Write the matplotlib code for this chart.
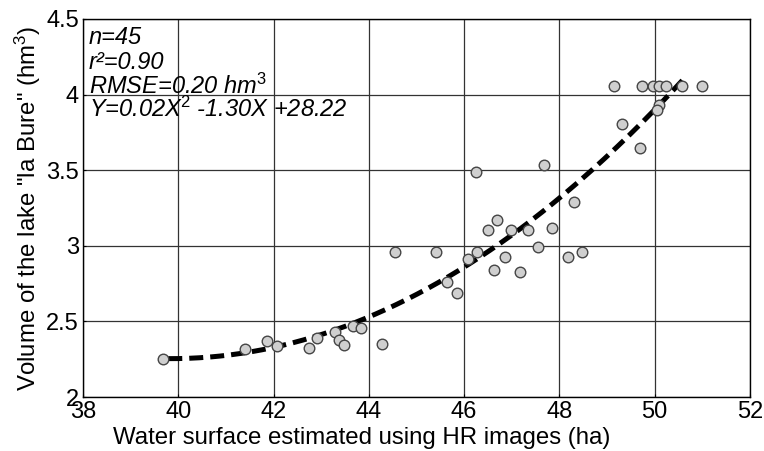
#!/usr/bin/env python
"""
lake volume against water surface estimated from HR images
"""

# used libraries
import numpy as np
from matplotlib import pyplot as plt

# water surface (ha)
surface = [39.68, 41.40, 41.86, 42.08, 42.74, 42.91, 43.29, 43.37, 43.48,
           43.67, 43.83, 44.27, 44.55, 45.41, 45.64, 45.85, 46.09, 46.27,
           46.24, 46.50, 46.69, 46.63, 46.85, 46.98, 47.18, 47.35, 47.54,
           47.67, 47.85, 48.19, 48.31, 48.47, 49.14, 49.73, 49.96, 50.10,
           50.24, 50.57, 50.99, 50.08, 50.05, 49.31, 49.70]

# lake volume (hm3)
volume = [2.250, 2.316, 2.373, 2.340, 2.327, 2.393, 2.430, 2.380, 2.346,
          2.470, 2.459, 2.353, 2.962, 2.962, 2.760, 2.690, 2.910, 2.960,
          3.485, 3.106, 3.170, 2.840, 2.925, 3.106, 2.830, 3.106, 2.993,
          3.534, 3.120, 2.925, 3.287, 2.962, 4.055, 4.055, 4.055, 4.055,
          4.055, 4.055, 4.055, 3.934, 3.896, 3.806, 3.644]

# range covered by the fitted curve
fit_range = [39.79, 50.62]

# statistics box
stats = ["n=45", "r²=0.90", "RMSE=0.20 hm$^{3}$",
         "Y=0.02X$^{2}$ -1.30X +28.22"]

xticks = [38, 40, 42, 44, 46, 48, 50, 52]
yticks = [2, 2.5, 3, 3.5, 4, 4.5]


def main():
    """
    draw the scatter with its quadratic fit and save it to out.png
    """

    # fonts close to arial
    plt.rcParams["font.family"] = ["Liberation Sans", "DejaVu Sans"]
    plt.rcParams["mathtext.fontset"] = "custom"
    plt.rcParams["mathtext.rm"] = "Liberation Sans"
    plt.rcParams["mathtext.it"] = "Liberation Sans:italic"

    fig = plt.figure(figsize=(7.64, 4.51), dpi=100)
    ax = fig.add_axes([0.1086, 0.1197, 0.8731, 0.8382])

    # quadratic fit of the points
    coef = np.polyfit(surface, volume, 2)
    xs = np.linspace(fit_range[0], fit_range[1], 200)
    ax.plot(xs, np.polyval(coef, xs), color="black", linewidth=3.6,
            linestyle=(0, (2.8, 1.4)), zorder=2)

    # observations
    ax.scatter(surface, volume, s=58, facecolor="#cfcfcf",
               edgecolor="#454545", linewidth=1.0, zorder=3)

    # axes limits, ticks and grid
    ax.set_xlim(38, 52)
    ax.set_ylim(2, 4.5)
    ax.set_xticks(xticks)
    ax.set_yticks(yticks)
    ax.set_yticklabels([f"{t:g}" for t in yticks])
    ax.tick_params(direction="in", length=2, labelsize=17, pad=3)
    ax.grid(True, color="#333333", linewidth=0.9)
    ax.set_axisbelow(True)
    for spine in ax.spines.values():
        spine.set_linewidth(1.0)

    # labels
    ax.set_xlabel("Water surface estimated using HR images (ha)",
                  fontsize=17.3)
    ax.xaxis.set_label_coords(0.418, -0.08)
    ax.set_ylabel('Volume of the lake "la Bure" (hm$^{3}$)', fontsize=17.3)
    ax.yaxis.set_label_coords(-0.06, 0.5)

    # statistics text
    ys = [0.934, 0.868, 0.802, 0.741]
    for text, y in zip(stats, ys):
        ax.text(0.009, y, text, transform=ax.transAxes, fontsize=17,
                style="italic", va="baseline", ha="left", zorder=4)

    fig.savefig("out.png", dpi=100)


if __name__ == "__main__":
    main()
